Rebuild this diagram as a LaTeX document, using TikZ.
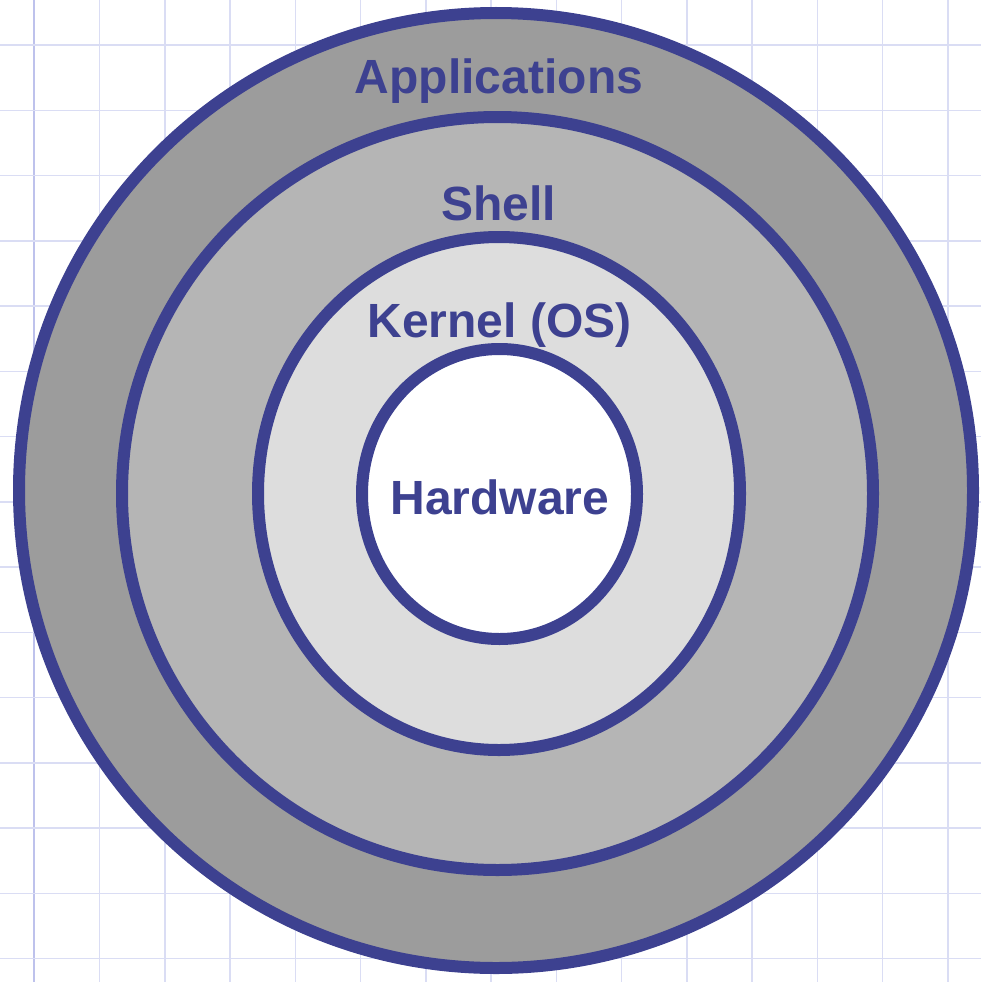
\documentclass[tikz,border=0pt]{standalone}
\usepackage{fontspec}
\setmainfont{Liberation Sans}
\usetikzlibrary{shapes.geometric}
\definecolor{ringblue}{RGB}{61,65,144}
\definecolor{gridblue}{RGB}{218,221,244}
\definecolor{marginblue}{RGB}{190,194,236}
\definecolor{appgray}{RGB}{156,156,156}
\definecolor{shellgray}{RGB}{181,181,181}
\definecolor{kernelgray}{RGB}{221,221,221}
\tikzset{
  ring/.style={ellipse, draw=ringblue, line width=12pt, inner sep=0pt, outer sep=0pt},
  layerlabel/.style={anchor=base, text=ringblue, font=\bfseries\fontsize{48}{57}\selectfont, inner sep=0pt},
  gridline/.style={draw=gridblue, line width=1.5pt}
}
\begin{document}
\begin{tikzpicture}[x=1pt,y=-1pt]
\useasboundingbox (0,0) rectangle (981,982);
\fill[white] (0,0) rectangle (981,982);
% grid
\foreach \k in {1,...,14} {
  \draw[gridline] ({34.3+65.25*\k},0) -- ({34.3+65.25*\k},982);
}
\draw[draw=marginblue, line width=1.8pt] (34.3,0) -- (34.3,982);
\foreach \k in {0,...,14} {
  \draw[gridline] (0,{45+65.25*\k}) -- (981,{45+65.25*\k});
}
% rings
\node[ring, fill=appgray, minimum width=954pt, minimum height=955pt] (apps) at (496,490.5) {};
\node[ring, fill=shellgray, minimum width=751pt, minimum height=753pt] (shell) at (497.5,493.5) {};
\node[ring, fill=kernelgray, minimum width=482pt, minimum height=513pt] (kernel) at (499,493.5) {};
\node[ring, fill=white, minimum width=275pt, minimum height=290pt] (hw) at (499.5,494) {};
% labels
\node[layerlabel] (lapps) at (499,93) {Applications};
\node[layerlabel] (lshell) at (498.5,220) {Shell};
\node[layerlabel] (lkernel) at (499.5,337) {Kernel (OS)};
\node[layerlabel] (lhw) at (500,514) {Hardware};
\end{tikzpicture}
\end{document}
